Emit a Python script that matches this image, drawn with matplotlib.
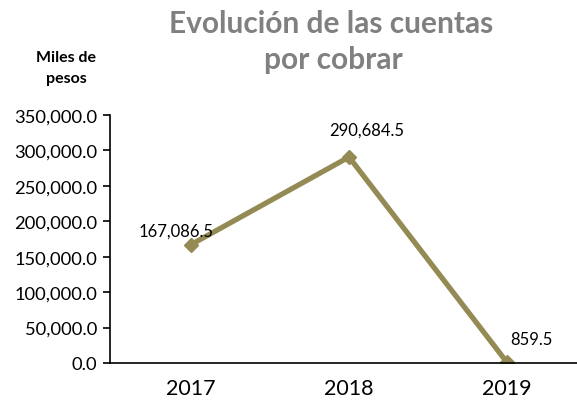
import matplotlib
matplotlib.use("Agg")
import matplotlib.pyplot as plt
from matplotlib.ticker import FuncFormatter

years = ["2017", "2018", "2019"]
values = [167086.5, 290684.5, 859.5]
labels = ["167,086.5", "290,684.5", "859.5"]

plt.rcParams['font.family'] = ['Lato', 'DejaVu Sans']

W, H = 577, 406
fig = plt.figure(figsize=(W/100, H/100), dpi=100)
left, right, bottom, top = 110, 577, 364, 116
ax = fig.add_axes([left/W, 1-bottom/H, (right-left)/W, (bottom-top)/H])

x = list(range(len(years)))
color = "#948A54"
ax.plot(x, values, color=color, lw=3.8, marker="D", ms=7, solid_joinstyle="miter")

ax.set_ylim(0, 350000)
ax.set_yticks(range(0, 350001, 50000))
ax.yaxis.set_major_formatter(FuncFormatter(lambda v, p: f"{v:,.1f}"))
ax.set_xlim(-81/158, (577-191)/158)
ax.set_xticks(x)
ax.set_xticklabels(years, fontsize=15.5)
ax.tick_params(axis='x', length=0, pad=11)
ax.tick_params(axis='y', direction='out', length=5, width=1.2, labelsize=13.2, pad=4)
for s in ["top", "right"]:
    ax.spines[s].set_visible(False)
ax.spines["left"].set_linewidth(1.2)
ax.spines["bottom"].set_linewidth(1.2)

offsets = [(-11, 10), (12.5, 20), (17.5, 17)]
for xi, v, lab, off in zip(x, values, labels, offsets):
    ax.annotate(lab, (xi, v), xytext=off, textcoords="offset points",
                ha="center", va="center", fontsize=12)

fig.text(331/W, 1-24/H, "Evolución de las cuentas", ha="center", va="center",
         fontsize=21.5, fontweight="bold", color="#808080")
fig.text(333/W, 1-60/H, "por cobrar", ha="center", va="center",
         fontsize=21.5, fontweight="bold", color="#808080")
fig.text(66/W, 1-58/H, "Miles de", ha="center", va="center", fontsize=11.5, fontweight="bold")
fig.text(66/W, 1-79/H, "pesos", ha="center", va="center", fontsize=11.5, fontweight="bold")

fig.savefig("out.png", dpi=100)
